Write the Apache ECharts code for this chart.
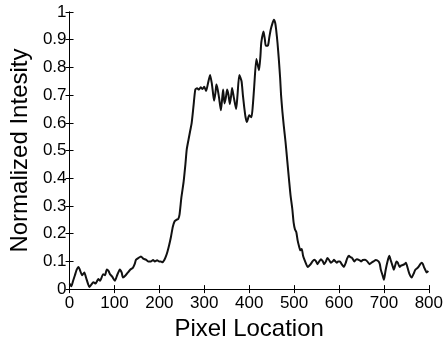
<!DOCTYPE html>
<html>
<head>
<meta charset="utf-8">
<script src="https://cdn.jsdelivr.net/npm/echarts@6/dist/echarts.min.js"></script>
<style>
html,body{margin:0;padding:0;background:#fff;}
#chart{width:446px;height:346px;}
</style>
</head>
<body>
<div id="chart"></div>
<script>
var pixelLocation = [0,4,8,12,16,20,24,28,33,37,41,44,48,53,58,64,68,75,79,83,87,90,95,101,106,112,116,119,125,130,135,141,145,148,153,159,164,170,175,181,186,190,195,199,203,207,211,215,218,222,226,230,234,238,242,245,249,254,258,261,265,269,272,276,280,284,288,292,296,300,304,308,313,317,320,322,325,327,330,333,337,340,342,345,348,351,354,357,360,362,366,371,374,378,383,386,389,392,395,400,405,408,411,416,419,422,425,427,432,435,437,442,445,448,452,455,458,460,463,466,469,471,474,477,481,485,489,492,496,499,502,505,508,511,514,517,520,523,527,530,534,537,541,545,549,552,556,560,564,567,571,574,578,582,586,589,592,595,598,602,606,611,615,618,622,626,629,634,637,640,645,649,653,658,663,668,672,677,682,688,691,693,697,700,702,704,708,712,715,717,720,722,725,728,731,735,738,742,746,749,753,757,762,766,770,774,777,781,784,787,789,792,795,799];
var intensity = [0.02,0.01,0.03,0.05,0.07,0.08,0.065,0.05,0.06,0.04,0.02,0.008,0.015,0.025,0.02,0.036,0.03,0.054,0.05,0.071,0.065,0.054,0.045,0.03,0.05,0.071,0.06,0.042,0.05,0.06,0.07,0.077,0.09,0.106,0.112,0.118,0.11,0.106,0.1,0.1,0.105,0.1,0.104,0.1,0.1,0.097,0.105,0.12,0.135,0.16,0.19,0.225,0.245,0.25,0.253,0.27,0.33,0.387,0.45,0.504,0.54,0.574,0.6,0.66,0.72,0.725,0.72,0.728,0.722,0.73,0.715,0.74,0.773,0.74,0.7,0.68,0.71,0.738,0.72,0.69,0.645,0.69,0.72,0.67,0.69,0.72,0.70,0.668,0.70,0.726,0.69,0.65,0.70,0.773,0.75,0.70,0.656,0.62,0.603,0.627,0.62,0.66,0.726,0.83,0.81,0.79,0.84,0.89,0.93,0.9,0.878,0.88,0.91,0.937,0.96,0.972,0.96,0.937,0.89,0.83,0.76,0.70,0.64,0.59,0.53,0.46,0.39,0.34,0.29,0.24,0.215,0.205,0.175,0.155,0.14,0.145,0.12,0.106,0.09,0.08,0.085,0.09,0.1,0.106,0.1,0.09,0.1,0.108,0.1,0.09,0.1,0.112,0.105,0.095,0.1,0.106,0.1,0.095,0.1,0.1,0.09,0.08,0.095,0.11,0.12,0.115,0.113,0.1,0.105,0.108,0.105,0.1,0.105,0.106,0.1,0.09,0.095,0.1,0.105,0.1,0.09,0.071,0.05,0.034,0.05,0.07,0.1,0.12,0.105,0.095,0.08,0.07,0.085,0.1,0.095,0.08,0.085,0.087,0.09,0.095,0.075,0.054,0.042,0.055,0.07,0.075,0.08,0.09,0.095,0.09,0.08,0.07,0.06,0.065];
var xTicks = [0,100,200,300,400,500,600,700,800];
var yTicks = [0,0.1,0.2,0.3,0.4,0.5,0.6,0.7,0.8,0.9,1];

var chart = echarts.init(document.getElementById('chart'), null, {renderer:'canvas'});
var lineData = pixelLocation.map(function(x,i){return [x, intensity[i]];});
var font = 'Liberation Sans, Arial, Helvetica, sans-serif';
var axisLine = {show:true, lineStyle:{color:'#000', width:1}};
var tick = {show:true, inside:true, length:4, lineStyle:{color:'#000', width:1}};
chart.setOption({
  animation:false,
  backgroundColor:'#fff',
  grid:{left:64, right:17, top:12, bottom:49, containLabel:false},
  xAxis:[{
    type:'value', min:xTicks[0], max:xTicks[xTicks.length-1], interval:100,
    axisLine:axisLine, axisTick:tick, splitLine:{show:false},
    axisLabel:{color:'#000', fontSize:17, fontFamily:font, margin:6,
      formatter:function(v){return xTicks.indexOf(v)>=0 ? String(v) : '';}},
    name:'Pixel Location', nameLocation:'middle', nameGap:19,
    nameTextStyle:{color:'#000', fontSize:24, fontFamily:font, verticalAlign:'top', padding:[0,0,0,0]}
  },{
    type:'value', position:'top', min:0, max:800, interval:100,
    axisLine:axisLine, axisTick:tick, axisLabel:{show:false}, splitLine:{show:false}
  }],
  yAxis:[{
    type:'value', min:0, max:1, interval:0.1,
    axisLine:axisLine, axisTick:tick, splitLine:{show:false},
    axisLabel:{color:'#000', fontSize:17, fontFamily:font, margin:3,
      formatter:function(v){var r=Math.round(v*10)/10; return yTicks.indexOf(r)>=0 ? String(r) : '';}},
    name:'Normalized Intesity', nameLocation:'middle', nameGap:31,
    nameTextStyle:{color:'#000', fontSize:24, fontFamily:font}
  },{
    type:'value', position:'right', min:0, max:1, interval:0.1,
    axisLine:axisLine, axisTick:tick, axisLabel:{show:false}, splitLine:{show:false}
  }],
  series:[{
    type:'line', data:lineData, showSymbol:false, smooth:0.2,
    lineStyle:{color:'#111', width:2}, clip:true
  }]
});
</script>
</body>
</html>
